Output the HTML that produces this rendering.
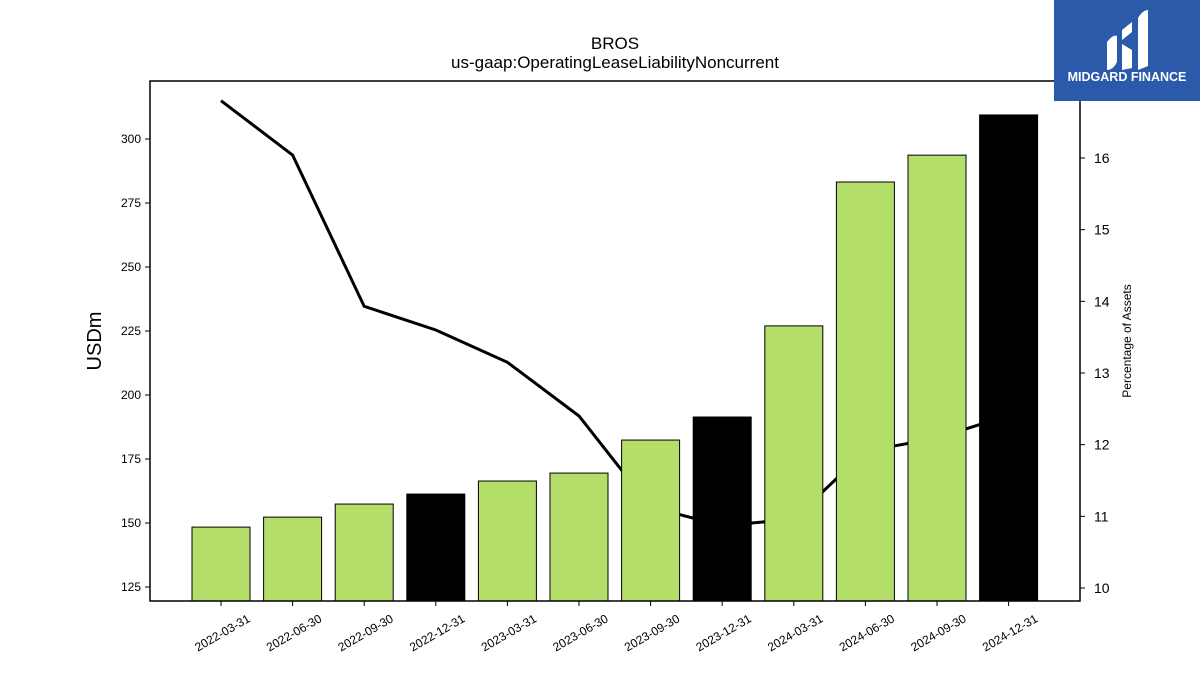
<!DOCTYPE html>
<html><head><meta charset="utf-8"><style>
body{margin:0;background:#fff;}
svg{display:block;font-family:"Liberation Sans","DejaVu Sans",sans-serif;}
</style></head><body>
<svg id="chart" width="1200" height="675" viewBox="0 0 1200 675">
<text x="615" y="49" text-anchor="middle" font-size="17">BROS</text>
<text x="615" y="68" text-anchor="middle" font-size="17">us-gaap:OperatingLeaseLiabilityNoncurrent</text>
<text transform="translate(101,341) rotate(-90)" text-anchor="middle" font-size="20">USDm</text>
<text transform="translate(1131,341) rotate(-90)" text-anchor="middle" font-size="12">Percentage of Assets</text>
<g id="line-layer"></g>
<g id="bar-layer"></g>
<g id="axis-layer"></g>
<rect x="150" y="81" width="930" height="520" fill="none" stroke="#000" stroke-width="1.5"/>
<g>
<rect x="1054" y="0" width="146" height="101" fill="#2b5aab"/>
<path d="M1107 42 q6-8 10-6 v26 q-4 8-10 8z M1122 30 l10-8 v10 l-10 8z M1122 44 l10 6 v18 l-10 2z M1138 18 q5-8 10-8 v56 l-10 4z" fill="#fff"/>
<text x="1127" y="81" text-anchor="middle" font-size="12.5" font-weight="bold" fill="#fff">MIDGARD FINANCE</text>
</g>
</svg>
<script>
const categories=["2022-03-31","2022-06-30","2022-09-30","2022-12-31","2023-03-31","2023-06-30","2023-09-30","2023-12-31","2024-03-31","2024-06-30","2024-09-30","2024-12-31"];
const barValues=[148.4,152.3,157.4,161.3,166.4,169.5,182.4,191.4,227.0,283.2,293.7,309.4];
const pctValues=[16.80,16.04,13.93,13.60,13.15,12.40,11.13,10.87,10.96,11.91,12.09,12.41];
const annualFlags=[0,0,0,1,0,0,0,1,0,0,0,1];
const leftTicks=[125,150,175,200,225,250,275,300];
const rightTicks=[10,11,12,13,14,15,16];
const NS="http://www.w3.org/2000/svg";
const X0=150,X1=1080,Y0=81,Y1=601;
const step=(X1-X0)/(categories.length+0.99);
const xPos=i=>221+i*71.6;
const yL=v=>587-(v-125)*2.56;
const yR=v=>588-(v-10)*71.67;
function mk(t,a,p){const e=document.createElementNS(NS,t);for(const k in a)e.setAttribute(k,a[k]);p.appendChild(e);return e;}
const lineL=document.getElementById('line-layer'),barL=document.getElementById('bar-layer'),axL=document.getElementById('axis-layer');
const pts=pctValues.map((v,i)=>xPos(i)+','+yR(v)).join(' ');
const pl=mk('polyline',{points:pts,fill:'none',stroke:'#000','stroke-width':3},lineL);


barValues.forEach((v,i)=>{
 const r=mk('rect',{x:xPos(i)-29,y:yL(v),width:58,height:Y1-yL(v),fill:annualFlags[i]?'#000':'#b3de6a',stroke:'#000','stroke-width':1},barL);
 
 
 const t=mk('line',{x1:xPos(i),x2:xPos(i),y1:Y1,y2:Y1+5,stroke:'#000'},axL);
 
 
 const l=mk('text',{transform:`translate(${xPos(i)+30},${Y1+20}) rotate(-30)`,'text-anchor':'end','font-size':12},axL);
 l.textContent=categories[i];
 
 
});
leftTicks.forEach(v=>{
 const t=mk('line',{x1:X0-5,x2:X0,y1:yL(v),y2:yL(v),stroke:'#000'},axL);
 
 
 const l=mk('text',{x:X0-9,y:yL(v)+4,'text-anchor':'end','font-size':12},axL);
 l.textContent=v;
 
 
});
rightTicks.forEach(v=>{
 const t=mk('line',{x1:X1,x2:X1+5,y1:yR(v),y2:yR(v),stroke:'#000'},axL);
 
 
 const l=mk('text',{x:X1+14,y:yR(v)+5,'font-size':14},axL);
 l.textContent=v;
 
 
});
</script>
</body></html>
